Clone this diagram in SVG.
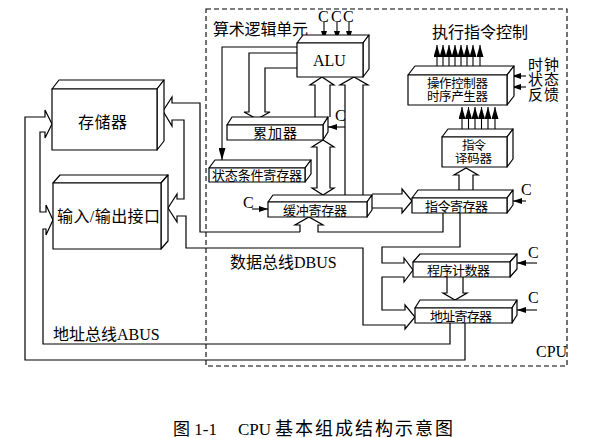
<svg xmlns="http://www.w3.org/2000/svg" width="616" height="438" viewBox="0 0 616 438">
<style>
.bx{fill:#fff;stroke:#000;stroke-width:1.2;stroke-linejoin:round}
.ln{fill:none;stroke:#000;stroke-width:1.2;stroke-linejoin:miter}
.ar{fill:none;stroke:#000;stroke-width:1.1;marker-end:url(#ah)}
.as{fill:none;stroke:#000;stroke-width:1.1;marker-end:url(#ah2)}
.t{font-family:"Liberation Serif","Noto Sans CJK SC",serif;fill:#000}
.dash{fill:none;stroke:#000;stroke-width:1.1;stroke-dasharray:5 3}
</style>
<defs>
<marker id="ah" markerUnits="userSpaceOnUse" markerWidth="12" markerHeight="7" refX="12" refY="3.5" orient="auto" viewBox="0 0 12 7"><path d="M0,0 L12,3.5 L0,7 z" fill="#000"/></marker>
<marker id="ah2" markerUnits="userSpaceOnUse" markerWidth="9" markerHeight="6" refX="9" refY="3" orient="auto" viewBox="0 0 9 6"><path d="M0,0 L9,3 L0,6 z" fill="#000"/></marker>
</defs>
<rect width="616" height="438" fill="#fff"/>

<!-- CPU boundary -->
<g id="cpu">
<rect class="dash" x="206" y="9" width="361" height="357"/>
<text class="t" x="536" y="357" font-size="16">CPU</text>
<text class="t" x="213" y="35" font-size="16" textLength="95">算术逻辑单元</text>
</g>

<!-- connectors -->
<g id="connectors">
<!-- data bus -->
<path class="ln" d="M300,232 V225 H295 L309,217 L323,225 H318 V232 H443 V213"/>
<path class="ln" d="M460,213 V247 H382 V263 H404 V258 L413,270 L404,282 V277 H382 V310 H405 V305 L415,317 L405,329 V325 H363 V248 H186 V216 H177 V222 L168,208 L177,194 V199 H184 V120 H172 V126 L163,111 L172,97 V103 H200 V232 H300"/>
<!-- address bus -->
<path class="ln" d="M450,323 V344 H43 V229 H46 V235 L53,220 L46,205 V212 H40 V132 H45 V138 L52,124 L45,110 V117 H25 V360 H465 V323"/>
<!-- ALU -> accumulator -->
<path class="ln" d="M297,53 H249 V112 H244 L257,119 L270,112 H265 V68 H297"/>
<!-- accumulator -> ALU -->
<path class="ln" d="M315,117 V85 H310 L322,77 L334,85 H330 V117"/>
<!-- buffer -> ALU -->
<path class="ln" d="M345,195 V85 H340 L354,77 L368,85 H363 V195"/>
<!-- accumulator <-> buffer -->
<path class="ln" d="M317,147 H312 L323,140 L334,147 H330 V188 H334 L323,195 L312,188 H317 Z"/>
<!-- buffer -> IR -->
<path class="ln" d="M372,194 H402 V189 L412,201 L402,213 V208 H372"/>
<!-- IR -> decoder -->
<path class="ln" d="M459,190 V175 H454 L466,168 L478,175 H473 V190"/>
<!-- PC -> AR -->
<path class="ln" d="M447,277 V293 H443 L455,300 L467,293 H463 V277"/>
<!-- ALU -> status -->
<path class="ar" d="M297,47 H222 V160"/>
<!-- control signals C -->
<path class="as" d="M324,22 V40"/>
<path class="as" d="M337,22 V40"/>
<path class="as" d="M349,22 V40"/>
<path class="as" d="M345,127 H328"/>
<path class="as" d="M252,209 H268"/>
<path class="as" d="M526,201 H513"/>
<path class="as" d="M537,263 H517"/>
<path class="as" d="M537,310 H517"/>
<path class="as" d="M526,76 H512"/>
<path class="as" d="M526,87 H512"/>
<!-- controller outputs -->
<path class="ar" d="M437,70 V45"/>
<path class="ar" d="M443,70 V45"/>
<path class="ar" d="M449,70 V45"/>
<path class="ar" d="M455,70 V45"/>
<path class="ar" d="M461,70 V45"/>
<path class="ar" d="M467,70 V45"/>
<path class="ar" d="M473,70 V45"/>
<path class="ar" d="M480,70 V45"/>
<!-- decoder -> controller -->
<path class="ar" d="M462,133 V107"/>
<path class="ar" d="M468.5,133 V107"/>
<path class="ar" d="M475,133 V107"/>
<path class="ar" d="M481.5,133 V107"/>
<path class="ar" d="M488,133 V107"/>
<path class="ar" d="M495,133 V107"/>
</g>

<!-- nodes -->
<g id="memory">
<path class="bx" d="M52,89 L59,80 H164 L157,89 Z"/>
<path class="bx" d="M157,89 L164,80 V141 L157,150 Z"/>
<rect class="bx" x="52" y="89" width="105" height="61"/>
<text class="t" x="78" y="128" font-size="16" textLength="49">存储器</text>
</g>
<g id="io">
<path class="bx" d="M53,183 L60,175 H168 L161,183 Z"/>
<path class="bx" d="M161,183 L168,175 V241 L161,249 Z"/>
<rect class="bx" x="53" y="183" width="108" height="66"/>
<text class="t" x="57" y="222" font-size="16" textLength="103">输入/输出接口</text>
</g>
<g id="alu">
<path class="bx" d="M297,43 L303,35 H369 L363,43 Z"/>
<path class="bx" d="M363,43 L369,35 V69 L363,77 Z"/>
<rect class="bx" x="297" y="43" width="66" height="34"/>
<text class="t" x="313" y="66" font-size="16">ALU</text>
</g>
<g id="acc">
<path class="bx" d="M227,125 L232,117 H328 L323,125 Z"/>
<path class="bx" d="M323,125 L328,117 V132 L323,140 Z"/>
<rect class="bx" x="227" y="125" width="96" height="15"/>
<text class="t" x="253" y="138" font-size="14" textLength="44">累加器</text>
</g>
<g id="status">
<path class="bx" d="M209,168 L215,160 H311 L305,168 Z"/>
<path class="bx" d="M305,168 L311,160 V174 L305,182 Z"/>
<rect class="bx" x="209" y="168" width="96" height="14"/>
<text class="t" x="212" y="180" font-size="13" textLength="90">状态条件寄存器</text>
</g>
<g id="buffer">
<path class="bx" d="M268,202 L273,195 H372 L367,202 Z"/>
<path class="bx" d="M367,202 L372,195 V210 L367,217 Z"/>
<rect class="bx" x="268" y="202" width="99" height="15"/>
<text class="t" x="283" y="215" font-size="13" textLength="64">缓冲寄存器</text>
<text class="t" x="243" y="208" font-size="16">C</text>
</g>
<g id="ir">
<path class="bx" d="M412,198 L418,190 H513 L507,198 Z"/>
<path class="bx" d="M507,198 L513,190 V205 L507,213 Z"/>
<rect class="bx" x="412" y="198" width="95" height="15"/>
<text class="t" x="425" y="211" font-size="13" textLength="63">指令寄存器</text>
<text class="t" x="521" y="195" font-size="16">C</text>
</g>
<g id="pc">
<path class="bx" d="M413,262 L420,254 H517 L510,262 Z"/>
<path class="bx" d="M510,262 L517,254 V269 L510,277 Z"/>
<rect class="bx" x="413" y="262" width="97" height="15"/>
<text class="t" x="427" y="275" font-size="13" textLength="63">程序计数器</text>
<text class="t" x="528" y="258" font-size="16">C</text>
</g>
<g id="ar">
<path class="bx" d="M415,308 L420,300 H517 L512,308 Z"/>
<path class="bx" d="M512,308 L517,300 V315 L512,323 Z"/>
<rect class="bx" x="415" y="308" width="97" height="15"/>
<text class="t" x="430" y="321" font-size="13" textLength="62">地址寄存器</text>
<text class="t" x="528" y="303" font-size="16">C</text>
</g>
<g id="controller">
<path class="bx" d="M408,75 L415,66 H514 L507,75 Z"/>
<path class="bx" d="M507,75 L514,66 V96 L507,105 Z"/>
<rect class="bx" x="408" y="75" width="99" height="30"/>
<text class="t" x="427" y="88" font-size="12.5" textLength="61">操作控制器</text>
<text class="t" x="427" y="101" font-size="12.5" textLength="61">时序产生器</text>
</g>
<g id="decoder">
<path class="bx" d="M442,137 L448,129 H513 L507,137 Z"/>
<path class="bx" d="M507,137 L513,129 V159 L507,167 Z"/>
<rect class="bx" x="442" y="137" width="65" height="30"/>
<text class="t" x="462" y="150" font-size="12.5" textLength="24">指令</text>
<text class="t" x="455" y="163" font-size="12.5" textLength="37">译码器</text>
</g>

<g id="labels">
<text class="t" x="318" y="22" font-size="16">C</text>
<text class="t" x="331" y="22" font-size="16">C</text>
<text class="t" x="343" y="22" font-size="16">C</text>
<text class="t" x="335" y="121" font-size="16">C</text>
<text class="t" x="432" y="38" font-size="16" textLength="96">执行指令控制</text>
<text class="t" x="528" y="70" font-size="15" textLength="31">时钟</text>
<text class="t" x="528" y="85" font-size="15" textLength="31">状态</text>
<text class="t" x="528" y="100" font-size="15" textLength="31">反馈</text>
<text class="t" x="230" y="268" font-size="16">数据总线DBUS</text>
<text class="t" x="53" y="340" font-size="16">地址总线ABUS</text>
<text class="t" x="173" y="435" font-size="17">图 1-1</text>
<text class="t" x="238" y="435" font-size="17">CPU</text>
<text class="t" x="275" y="435" font-size="18" textLength="178">基本组成结构示意图</text>
</g>
</svg>
